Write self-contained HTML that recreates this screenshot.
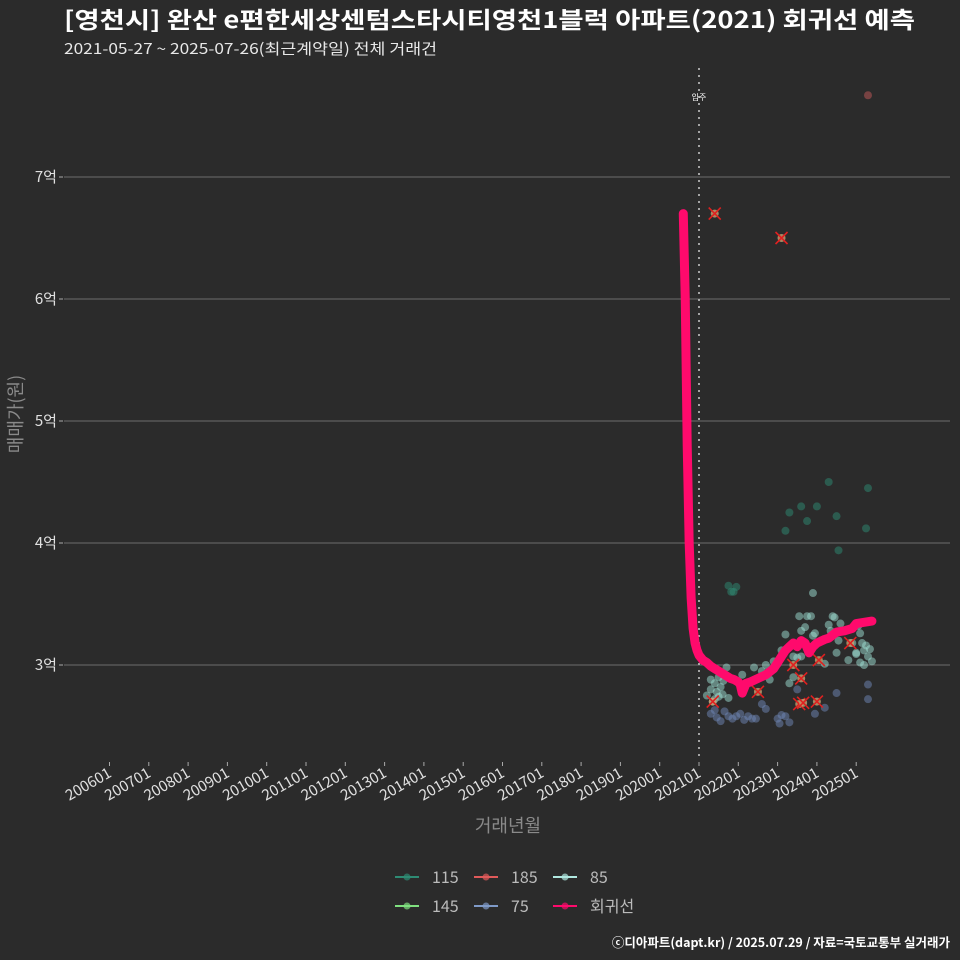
<!DOCTYPE html>
<html><head><meta charset="utf-8">
<style>
html,body{margin:0;padding:0;background:#2b2b2b;}
svg{display:block;font-family:"Noto Sans CJK KR","Liberation Sans",sans-serif;}
</style></head>
<body>
<svg id="chart" width="960" height="960" viewBox="0 0 960 960">
<rect x="0" y="0" width="960" height="960" fill="#2b2b2b"/>
<text x="64" y="28" font-size="23" font-weight="bold" fill="#ffffff" textLength="851" lengthAdjust="spacingAndGlyphs">[영천시] 완산 e편한세상센텀스타시티영천1블럭 아파트(2021) 회귀선 예측</text>
<text x="64" y="54" font-size="15" fill="#e8e8e8" textLength="373" lengthAdjust="spacingAndGlyphs">2021-05-27 ~ 2025-07-26(최근계약일) 전체 거래건</text>
<g id="grid"></g>
<g id="yaxis"></g>
<g id="xaxis"></g>
<g id="points"></g>
<g id="reg"></g>
<text transform="translate(22,414) rotate(-90)" text-anchor="middle" font-size="18" fill="#8a8a8a">매매가(원)</text>
<text x="508" y="832" text-anchor="middle" font-size="18" fill="#8a8a8a">거래년월</text>
<g id="legend"></g>
<text x="950" y="947" text-anchor="end" font-size="12.5" font-weight="bold" fill="#ffffff">ⓒ디아파트(dapt.kr) / 2025.07.29 / 자료=국토교통부 실거래가</text>
</svg>
<script>
const yTicks=[30000,40000,50000,60000,70000];
const yTickLabels=["3억","4억","5억","6억","7억"];
const xTickYears=[2006,2007,2008,2009,2010,2011,2012,2013,2014,2015,2016,2017,2018,2019,2020,2021,2022,2023,2024,2025];
const xTickLabels=["200601","200701","200801","200901","201001","201101","201201","201301","201401","201501","201601","201701","201801","201901","202001","202101","202201","202301","202401","202501"];
const moveInYear=2021.0;
// series: [year, price(만원)]
const s115=[[2021.75,36500],[2021.82,36000],[2021.88,36000],[2021.95,36400],[2023.2,41000],[2023.3,42500],[2023.6,43000],[2023.75,41800],[2024.0,43000],[2024.3,45000],[2024.5,42200],[2024.55,39400],[2025.3,44500],[2025.25,41200]];
const s185=[[2025.3,76700]];
const s85=[[2021.2,27500],[2021.3,28000],[2021.35,27000],[2021.4,28500],[2021.45,27800],[2021.5,29000],[2021.55,28200],[2021.6,27600],[2021.3,28800],[2021.4,27200],[2021.5,27400],[2021.62,28700],[2021.7,29800],[2021.75,27300],[2022.1,29200],[2022.4,29800],[2022.6,29500],[2022.8,28800],[2022.9,30300],[2023.0,30100],[2023.1,31200],[2023.2,32500],[2023.3,28500],[2023.4,30700],[2023.5,30600],[2023.55,34000],[2023.6,32800],[2023.7,33100],[2023.75,34000],[2023.85,34000],[2023.9,32400],[2023.95,32600],[2023.9,35900],[2024.1,32000],[2024.2,30100],[2024.3,33300],[2024.35,32800],[2024.4,34000],[2024.45,33900],[2024.5,31000],[2024.55,32000],[2024.6,33400],[2024.7,32800],[2024.8,30400],[2024.9,31800],[2025.0,30900],[2025.05,33200],[2025.1,32600],[2025.15,31800],[2025.2,31200],[2025.25,31600],[2025.3,30700],[2025.35,31300],[2025.1,30200],[2025.2,30000],[2025.0,31000],[2025.4,30300],[2023.4,29000],[2022.7,30000],[2023.6,30700]];
const s75=[[2021.3,26000],[2021.4,26300],[2021.45,25700],[2021.55,25400],[2021.65,26200],[2021.75,25800],[2021.85,25600],[2021.95,25800],[2022.05,26000],[2022.15,25500],[2022.25,25800],[2022.35,25600],[2022.45,25600],[2022.6,26800],[2022.7,26400],[2023.0,25600],[2023.1,25900],[2023.2,25800],[2023.3,25300],[2023.5,28000],[2024.2,26500],[2024.5,27700],[2025.3,27200],[2025.3,28400],[2023.05,25200],[2023.95,26000]];
const s145=[];
const sCross=[[2021.35,27000],[2021.4,67000],[2023.1,65000],[2022.5,27800],[2023.4,30000],[2023.6,28900],[2023.55,26800],[2023.65,26900],[2024.0,27000],[2024.05,30400],[2024.85,31800]];
const regX=[2020.6,2020.65,2020.7,2020.75,2020.8,2020.85,2020.9,2020.95,2021.0,2021.1,2021.2,2021.3,2021.4,2021.5,2021.6,2021.7,2021.8,2021.9,2022.0,2022.05,2022.1,2022.2,2022.3,2022.5,2022.7,2022.9,2023.0,2023.1,2023.2,2023.3,2023.4,2023.5,2023.6,2023.7,2023.8,2023.9,2024.0,2024.2,2024.3,2024.5,2024.7,2024.9,2025.0,2025.2,2025.4];
const regY=[67000,60000,48000,40000,35500,33000,31800,31200,30800,30400,30200,29900,29700,29500,29300,29100,28900,28800,28600,28400,27700,28500,28600,28900,29200,29700,30200,30700,31200,31500,31800,31500,32000,31800,31000,31500,31800,32100,32200,32700,32800,33000,33400,33500,33600];
const NS='http://www.w3.org/2000/svg';
const X0=699, PX=39.3, Y0=665, PY=122/10000;
function xs(t){return X0+(t-2021)*PX;}
function ys(p){return Y0-(p-30000)*PY;}
function mk(tag,attrs,parent){const e=document.createElementNS(NS,tag);for(const k in attrs)e.setAttribute(k,attrs[k]);parent.appendChild(e);return e;}
const grid=document.getElementById('grid'),ya=document.getElementById('yaxis'),xa=document.getElementById('xaxis');
yTicks.forEach((v,i)=>{
 const l=mk('line',{x1:64,x2:950,y1:ys(v),y2:ys(v),stroke:'#6e6e6e','stroke-width':1},grid);
 
 
 const t=mk('line',{x1:59,x2:63,y1:ys(v),y2:ys(v),stroke:'#aaa'},ya);
 
 
 const tx=mk('text',{x:57,y:ys(v)+5,'text-anchor':'end','font-size':15,fill:'#e0e0e0'},ya);
 tx.textContent=yTickLabels[i];
 
 
});
xTickYears.forEach((yr,i)=>{
 const x=xs(yr);
 const t=mk('line',{x1:x,x2:x,y1:762,y2:766,stroke:'#aaa'},xa);
 
 
 const tx=mk('text',{transform:'translate('+(x+3)+',776) rotate(-30)','text-anchor':'end','font-size':15,fill:'#e0e0e0'},xa);
 tx.textContent=xTickLabels[i];
 
 
});
const mv=mk('line',{x1:xs(moveInYear),x2:xs(moveInYear),y1:68,y2:760,stroke:'#cccccc','stroke-width':1.5,'stroke-dasharray':'2,5'},xa);


const mvt=mk('text',{x:xs(moveInYear),y:100,'text-anchor':'middle','font-size':8,fill:'#fff'},xa);
mvt.textContent='입주';


const pts=document.getElementById('points');
function drawSeries(arr,color,name){arr.forEach(d=>{
 const c=mk('circle',{cx:xs(d[0]),cy:ys(d[1]),r:4,fill:color,'fill-opacity':0.5},pts);
 
 
});}
drawSeries(s75,'#7088b8','75');
drawSeries(s85,'#9ee0d4','85');
drawSeries(s115,'#2e8b74','115');
drawSeries(s145,'#7fe07f','145');
drawSeries(s185,'#c45a5a','185');
sCross.forEach(d=>{
 const x=xs(d[0]),y=ys(d[1]);
 const c=mk('circle',{cx:x,cy:y,r:4,fill:'#c8a070','fill-opacity':0.8},pts);
 
 
 const p=mk('path',{d:`M${x-6} ${y-6}L${x+6} ${y+6}M${x+6} ${y-6}L${x-6} ${y+6}`,stroke:'#e02020','stroke-width':1.6},pts);
 
 
});
const reg=document.getElementById('reg');
const rp=mk('polyline',{points:regX.map((x,i)=>xs(x)+','+ys(regY[i])).join(' '),fill:'none',stroke:'#ff0a6c','stroke-width':9,'stroke-linejoin':'round','stroke-linecap':'round'},reg);


const lg=document.getElementById('legend');
const legendNames=["115","185","85","145","75","회귀선"];
const legendColors=['#2e8b74','#e05a5a','#b0e8e0','#7fe07f','#7f9ac8','#ff0a6c'];
legendNames.forEach((n,i)=>{
 const col=i%3,row=Math.floor(i/3);
 const x=395+col*79,y=877+row*29;
 const g=mk('g',{},lg);
 
 
 mk('line',{x1:x,x2:x+24,y1:y,y2:y,stroke:legendColors[i],'stroke-width':2},g);
 mk('circle',{cx:x+12,cy:y,r:3.5,fill:legendColors[i],'fill-opacity':0.7},g);
 const t=mk('text',{x:x+37,y:y+6,'font-size':16,fill:'#bbbbbb'},g);
 t.textContent=n;
});
</script>
</body></html>
